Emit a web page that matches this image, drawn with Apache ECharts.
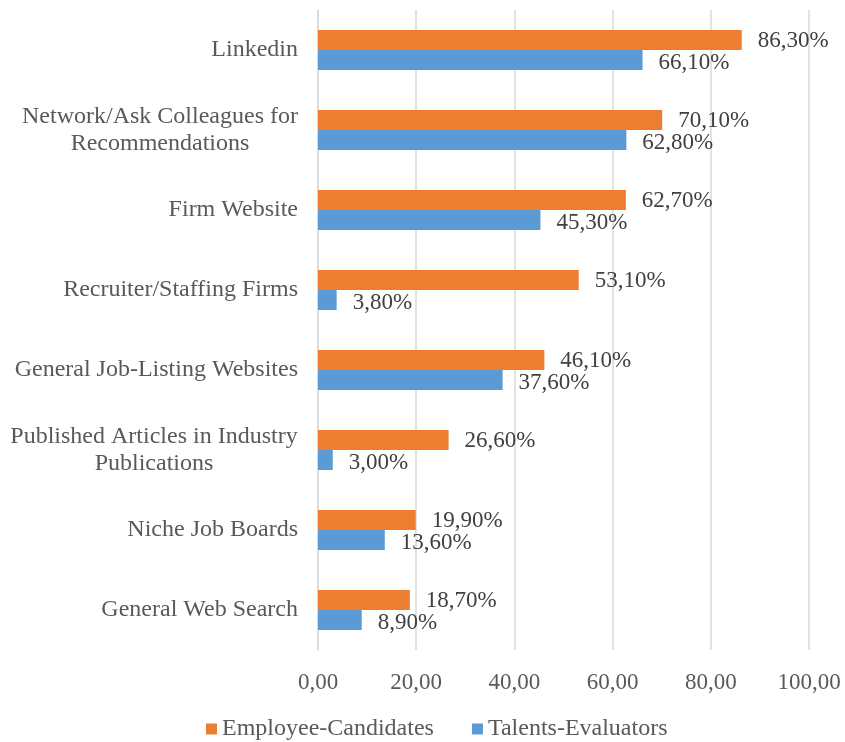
<!DOCTYPE html>
<html>
<head>
<meta charset="utf-8">
<script src="https://cdn.jsdelivr.net/npm/echarts@6/dist/echarts.min.js"></script>
<style>
  html, body { margin: 0; padding: 0; background: #fff; }
  #chart { width: 845px; height: 742px; }
</style>
</head>
<body>
<div id="chart"></div>
<script>
var categories = [
  "Linkedin",
  "Network/Ask Colleagues for\nRecommendations",
  "Firm Website",
  "Recruiter/Staffing Firms",
  "General Job-Listing Websites",
  "Published Articles in Industry\nPublications",
  "Niche Job Boards",
  "General Web Search"
];
var employeeCandidates = [86.3, 70.1, 62.7, 53.1, 46.1, 26.6, 19.9, 18.7];
var talentsEvaluators = [66.1, 62.8, 45.3, 3.8, 37.6, 3.0, 13.6, 8.9];
var xTicks = [0, 20, 40, 60, 80, 100];

var FONT = "'Liberation Serif', 'Times New Roman', serif";
var LABEL_SIZE = 24;

// multi-line labels: lines centred inside a block that is right aligned
var ctx = document.createElement("canvas").getContext("2d");
ctx.font = LABEL_SIZE + "px " + FONT;
function blockWidth(v) {
  var w = 0;
  v.split("\n").forEach(function (l) { w = Math.max(w, ctx.measureText(l).width); });
  return Math.ceil(w);
}
var rich = {};
categories.forEach(function (c) {
  if (c.indexOf("\n") >= 0) {
    var w = blockWidth(c);
    rich["c" + w] = { width: w, align: "center", fontSize: LABEL_SIZE, fontFamily: FONT, color: "#595959", lineHeight: 27 };
  }
});
function catLabel(v) {
  var lines = v.split("\n");
  if (lines.length === 1) return v;
  var w = blockWidth(v);
  return lines.map(function (l) { return "{c" + w + "|" + l + "}"; }).join("\n");
}

function comma(v) { return v.toFixed(2).replace(".", ","); }

var chart = echarts.init(document.getElementById("chart"));
chart.setOption({
  animation: false,
  textStyle: { fontFamily: FONT },
  grid: { left: 318, right: 36, top: 10, bottom: 92 },
  legend: {
    top: 712,
    left: 201,
    itemWidth: 11,
    itemHeight: 11,
    itemGap: 38,
    icon: "rect",
    textStyle: { fontFamily: FONT, fontSize: 24, color: "#595959" },
    data: ["Employee-Candidates", "Talents-Evaluators"]
  },
  xAxis: {
    type: "value",
    min: xTicks[0],
    max: xTicks[xTicks.length - 1],
    interval: 20,
    axisLine: { show: false },
    axisTick: { show: false },
    splitLine: { lineStyle: { color: "#d9d9d9", width: 1.5 } },
    axisLabel: {
      margin: 21,
      fontFamily: FONT,
      fontSize: 23,
      color: "#595959",
      formatter: function (v) { return comma(v); }
    }
  },
  yAxis: {
    type: "category",
    inverse: true,
    data: categories,
    axisLine: { lineStyle: { color: "#d9d9d9", width: 1.5 } },
    axisTick: { show: false },
    axisLabel: {
      margin: 20,
      fontFamily: FONT,
      fontSize: LABEL_SIZE,
      color: "#595959",
      lineHeight: 27,
      formatter: catLabel,
      rich: rich
    }
  },
  series: [
    {
      name: "Employee-Candidates",
      type: "bar",
      data: employeeCandidates,
      barGap: "0%",
      barCategoryGap: "50%",
      itemStyle: { color: "#ed7d31" },
      label: {
        show: true,
        position: "right",
        distance: 16,
        offset: [0, 1],
        fontFamily: FONT,
        fontSize: 23,
        color: "#404040",
        formatter: function (p) { return comma(p.value) + "%"; }
      }
    },
    {
      name: "Talents-Evaluators",
      type: "bar",
      data: talentsEvaluators,
      barGap: "0%",
      barCategoryGap: "50%",
      itemStyle: { color: "#5b9bd5" },
      label: {
        show: true,
        position: "right",
        distance: 16,
        offset: [0, 3],
        fontFamily: FONT,
        fontSize: 23,
        color: "#404040",
        formatter: function (p) { return comma(p.value) + "%"; }
      }
    }
  ]
});
</script>
</body>
</html>
